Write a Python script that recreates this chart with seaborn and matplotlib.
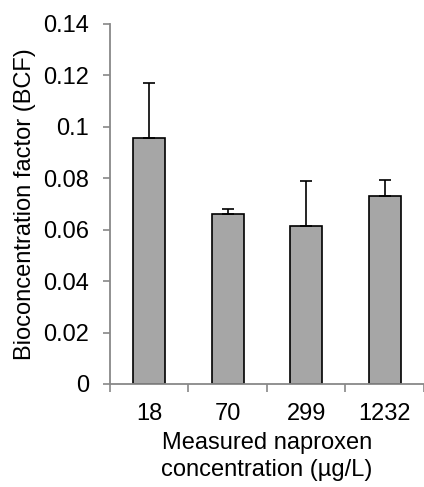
import matplotlib
matplotlib.use("Agg")
import matplotlib.pyplot as plt
import numpy as np
import pandas as pd
import seaborn as sns

concentrations = ["18", "70", "299", "1232"]
bcf_mean = [0.0955, 0.0662, 0.0616, 0.0730]
bcf_err = [0.0214, 0.0018, 0.0173, 0.0062]

sns.set_style("white")
plt.rcParams["font.family"] = ["Liberation Sans", "DejaVu Sans"]
plt.rcParams["font.size"] = 17
plt.rcParams["text.color"] = "black"
plt.rcParams["axes.labelcolor"] = "black"
plt.rcParams["xtick.labelcolor"] = "black"
plt.rcParams["ytick.labelcolor"] = "black"

df = pd.DataFrame({"conc": concentrations, "bcf": bcf_mean})

fig = plt.figure(figsize=(4.24, 4.87), dpi=100)
ax = fig.add_axes([0.259, 0.2115, 0.741, 0.7395])

sns.barplot(data=df, x="conc", y="bcf", color="#a6a6a6", saturation=1,
            edgecolor="black", linewidth=1.2, width=0.41, errorbar=None, ax=ax)
x = np.arange(len(concentrations))
ax.errorbar(x, bcf_mean, yerr=[np.zeros(len(bcf_err)), bcf_err], fmt="none",
            ecolor="black", elinewidth=1.2, capsize=4, capthick=1.2, zorder=3)

ax.set_ylim(0, 0.14)
ax.set_yticks(np.arange(0, 0.141, 0.02))
ax.set_yticklabels(["0", "0.02", "0.04", "0.06", "0.08", "0.1", "0.12", "0.14"])
ax.set_xlim(-0.5, len(concentrations) - 0.5)
ax.set_xticks(x)
ax.set_xticks(np.arange(-0.5, len(concentrations), 1.0), minor=True)
ax.tick_params(axis="x", which="major", bottom=True, length=0, pad=14,
               labelsize=17, labelcolor="black")
ax.tick_params(axis="x", which="minor", bottom=True, length=6, width=1.2,
               color="#888888", direction="out")
ax.tick_params(axis="y", left=True, length=5, width=1.2, color="#888888",
               direction="out", pad=10, labelsize=17, labelcolor="black")

for side in ["top", "right"]:
    ax.spines[side].set_visible(False)
for side in ["left", "bottom"]:
    ax.spines[side].set_color("#888888")
    ax.spines[side].set_linewidth(1.3)

ax.set_xlabel("Measured naproxen\nconcentration (µg/L)", fontsize=17, labelpad=5,
              linespacing=1.25, color="black")
ax.set_ylabel("Bioconcentration factor (BCF)", fontsize=17, labelpad=5,
              color="black")

fig.savefig("out.png", dpi=100)
plt.close(fig)
